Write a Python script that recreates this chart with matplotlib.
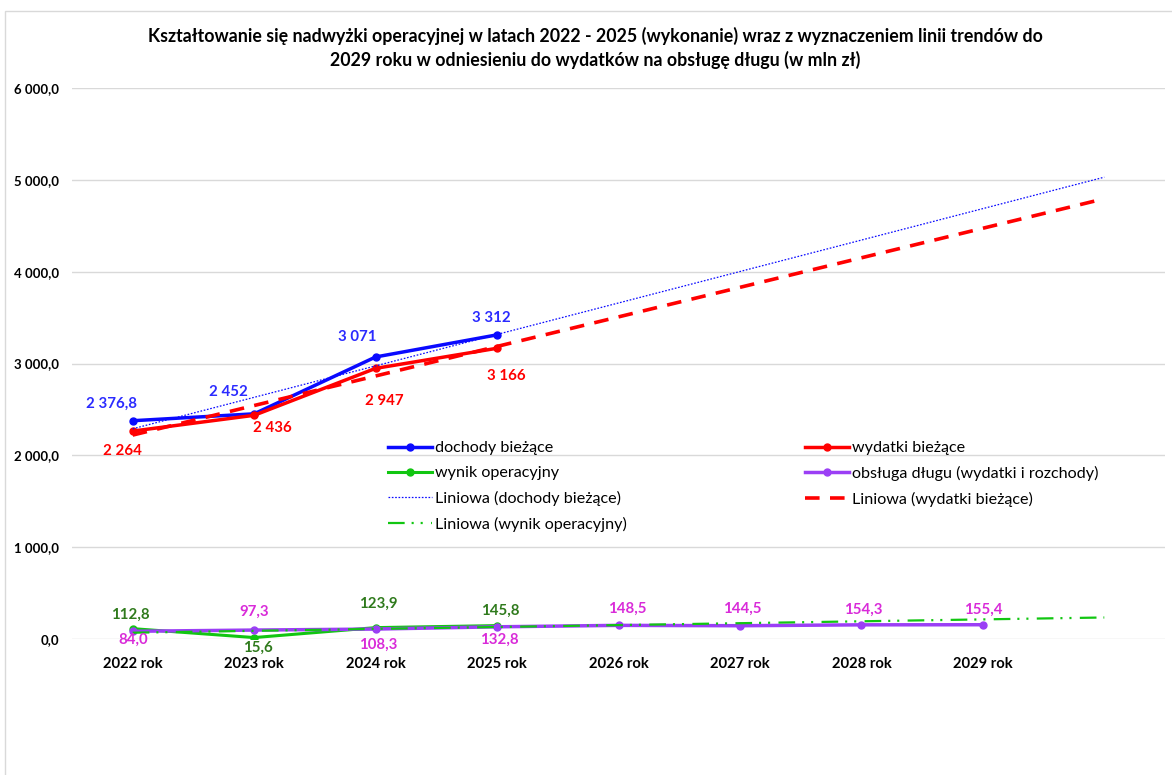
import numpy as np
import matplotlib
matplotlib.use("Agg")
import matplotlib.pyplot as plt
from matplotlib.patches import Rectangle

plt.rcParams['font.family'] = ['Lato', 'DejaVu Sans']
plt.rcParams['lines.scale_dashes'] = False

# --- data (mln zł) ---
years = ['2022 rok', '2023 rok', '2024 rok', '2025 rok',
         '2026 rok', '2027 rok', '2028 rok', '2029 rok', '']
dochody = [2376.8, 2452, 3071, 3312]
wydatki = [2264, 2436, 2947, 3166]
wynik = [112.8, 15.6, 123.9, 145.8]
obsluga = [84.0, 97.3, 108.3, 132.8, 148.5, 144.5, 154.3, 155.4]

# label offsets in pixels (dx, dy)
off_doch = [(-21, 17), (-26, 22), (-18, 20), (-6, 17)]
off_wyd = [(-10, -20), (18, -13), (9, -33), (9, -28)]
off_wyn = [(-2, 14), (4, -10), (3, 24), (3, 15)]
off_obs = [(0, -9), (0, 18), (3, -16), (2, -13), (9, 17), (2, 17), (2, 15), (0, 15)]

C_BLUE = '#0a0aff'
C_RED = '#ff0000'
C_GREEN = '#11c611'
C_PURPLE = '#9b3ff5'
C_LBL_BLUE = '#2b2bff'
C_LBL_GREEN = '#2f7a1c'
C_LBL_MAG = '#d92bd9'


def pl(v, dec):
    return f"{v:,.{dec}f}".replace(",", " ").replace(".", ",")


def trend(vals, n):
    x = np.arange(len(vals))
    k, b = np.polyfit(x, vals, 1)
    xx = np.arange(n)
    return xx, k * xx + b


fig = plt.figure(figsize=(11.72, 7.75), dpi=100)
fig.patches.append(Rectangle((5 / 1172, -0.05), 1.1, 1.05 - 11 / 775,
                             transform=fig.transFigure, fill=False,
                             edgecolor='#d9d9d9', lw=1))
ax = fig.add_axes([72 / 1172, 1 - 639 / 775, 1093 / 1172, 551 / 775])

n = len(years)
xd = np.arange(len(dochody))
xo = np.arange(len(obsluga))

l_doch, = ax.plot(xd, dochody, color=C_BLUE, lw=2.5, marker='o', ms=5,
                  label='dochody bieżące', zorder=4)
l_wyd, = ax.plot(xd, wydatki, color=C_RED, lw=2.5, marker='o', ms=5,
                 label='wydatki bieżące', zorder=4)
l_wyn, = ax.plot(np.arange(len(wynik)), wynik, color=C_GREEN, lw=2.2,
                 marker='o', ms=5, label='wynik operacyjny', zorder=4)
l_obs, = ax.plot(xo, obsluga, color=C_PURPLE, lw=2.5, marker='o', ms=5,
                 label='obsługa długu (wydatki i rozchody)', zorder=4)

tx, ty = trend(dochody, n)
t_doch, = ax.plot(tx, ty, color=C_BLUE, lw=0.9, ls=(0, (1.2, 1.2)),
                  label='Liniowa (dochody bieżące)', zorder=5)
tx, ty = trend(wydatki, n)
t_wyd, = ax.plot(tx, ty, color=C_RED, lw=2.6, ls=(0, (10.5, 7.5)),
                 label='Liniowa (wydatki bieżące)', zorder=5)
tx, ty = trend(wynik, n)
t_wyn, = ax.plot(tx, ty, color=C_GREEN, lw=1.6,
                 ls=(0, (12, 5, 1.5, 5, 1.5, 6)),
                 label='Liniowa (wynik operacyjny)', zorder=5)

# data labels
for vals, offs, col, fixed in [(dochody, off_doch, C_LBL_BLUE, False),
                               (wydatki, off_wyd, C_RED, False),
                               (wynik, off_wyn, C_LBL_GREEN, True),
                               (obsluga, off_obs, C_LBL_MAG, True)]:
    for i, v in enumerate(vals):
        dec = 1 if (fixed or v % 1) else 0
        ax.annotate(pl(v, dec), (i, v), xytext=offs[i], textcoords='offset pixels',
                    ha='center', va='center', color=col, fontsize=10.8,
                    fontweight='bold', zorder=6)

ax.set_xlim(-0.5, n - 0.5)
ax.set_ylim(0, 6000)
ax.set_xticks(np.arange(n))
ax.set_xticklabels(years, fontsize=10.6, fontweight='bold')
ax.set_yticks(np.arange(0, 6001, 1000))
ax.set_yticklabels([pl(v, 1) for v in np.arange(0, 6001, 1000)],
                   fontsize=9.5, fontweight='bold')
ax.tick_params(axis='both', length=0, colors='#000000')
ax.tick_params(axis='x', pad=13)
ax.tick_params(axis='y', pad=9)
ax.grid(axis='y', color='#d9d9d9', lw=1)
ax.set_axisbelow(True)
for s in ax.spines.values():
    s.set_visible(False)

leg_kw = dict(frameon=False, fontsize=11.6, handlelength=2.7, handletextpad=0.2,
              labelspacing=0.66, borderpad=0, borderaxespad=0, loc='upper left')
leg1 = ax.legend([l_doch, l_wyn, t_doch, t_wyn],
                 [h.get_label() for h in [l_doch, l_wyn, t_doch, t_wyn]],
                 bbox_to_anchor=((388 - 72) / 1093, (639 - 441) / 551), **leg_kw)
ax.add_artist(leg1)
ax.legend([l_wyd, l_obs, t_wyd], [h.get_label() for h in [l_wyd, l_obs, t_wyd]],
          bbox_to_anchor=((805 - 72) / 1093, (639 - 441) / 551), **leg_kw)

fig.text(0.508, 1 - 36 / 775,
         "Kształtowanie się nadwyżki operacyjnej w latach 2022 - 2025 (wykonanie) "
         "wraz z wyznaczeniem linii trendów do",
         ha='center', va='center', fontsize=12.8, fontweight='bold')
fig.text(0.508, 1 - 60 / 775,
         "2029 roku w odniesieniu do wydatków na obsługę długu (w mln zł)",
         ha='center', va='center', fontsize=12.8, fontweight='bold')

fig.savefig("out.png", dpi=100)
